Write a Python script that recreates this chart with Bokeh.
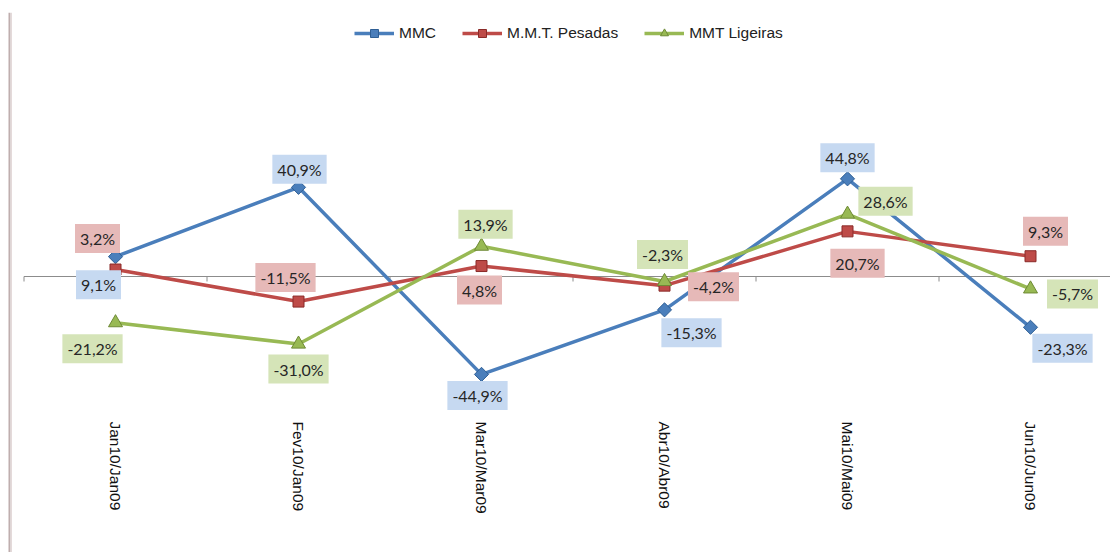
from math import pi
from bokeh.plotting import figure
from bokeh.models import Range1d, Span, Legend, LegendItem
from bokeh.core.properties import value
from bokeh.embed import file_html
from bokeh.resources import INLINE

# ---------------- data ----------------
categories = ["Jan10/Jan09", "Fev10/Jan09", "Mar10/Mar09",
              "Abr10/Abr09", "Mai10/Mai09", "Jun10/Jun09"]
series_names = ["MMC", "M.M.T. Pesadas", "MMT Ligeiras"]
mmc = [9.1, 40.9, -44.9, -15.3, 44.8, -23.3]
pesadas = [3.2, -11.5, 4.8, -4.2, 20.7, 9.3]
ligeiras = [-21.2, -31.0, 13.9, -2.3, 28.6, -5.7]

# ---------------- layout / style ----------------
# data-label offsets in screen pixels (dx, dy; dy positive = down)
mmc_off = [(-17, 28), (1, -18), (-4, 21), (27, 23), (0, -21), (32, 21)]
pes_off = [(-18, -31), (-13, -24), (-2, 24), (49, 1), (10, 32), (15, -25)]
lig_off = [(-23, 26), (0, 25), (4, -22), (-2, -27), (38, -13), (42, 5)]

W, H = 1110, 552
TOP = 12
PX_CAT = 183.0           # pixels per category
PX_UNIT = 2.18           # pixels per percentage point
FRAME_H = H - TOP
ZERO_PX = 276 - TOP      # zero line, from frame top
FIRST_CENTER_PX = 115

xs = -FIRST_CENTER_PX / PX_CAT
xe = xs + W / PX_CAT
ye = ZERO_PX / PX_UNIT
ys = -(FRAME_H - ZERO_PX) / PX_UNIT

blue, red, green = "#4a7ebb", "#be4b48", "#98b954"
blue_bg, red_bg, green_bg = "#c6d9f1", "#e6b9b8", "#d5e4b8"

p = figure(width=W, height=H, x_range=Range1d(xs, xe), y_range=Range1d(ys, ye),
           output_backend="svg", toolbar_location=None,
           x_axis_location=None, y_axis_location=None,
           min_border_left=0, min_border_right=0,
           min_border_top=TOP, min_border_bottom=0)
p.outline_line_color = None
p.background_fill_color = "white"
p.border_fill_color = "white"
p.xgrid.visible = False
p.ygrid.visible = False

# left chart-area border with a soft shadow
p.add_layout(Span(location=xs + 9 / PX_CAT, dimension="height",
                  line_color="#bfaeae", line_width=2))
p.add_layout(Span(location=xs + 11 / PX_CAT, dimension="height",
                  line_color="#e4dada", line_width=1))

n = len(categories)
xpos = list(range(n))

# horizontal category axis at zero with tick marks at boundaries
p.segment(x0=[-0.5], y0=[0], x1=[n - 0.5], y1=[0], line_color="#8c8c8c", line_width=1)
bounds = [i - 0.5 for i in range(n + 1)]
p.segment(x0=bounds, y0=[0] * len(bounds), x1=bounds,
          y1=[-5 / PX_UNIT] * len(bounds), line_color="#8c8c8c", line_width=1)

# category labels (rotated, reading top-to-bottom)
p.text(x=xpos, y=[-(421 - 276) / PX_UNIT] * n, text=categories, angle=-pi / 2,
       text_align="left", text_baseline="middle",
       text_font=value("Liberation Sans"), text_font_size="15.5px",
       text_color="#111111")

series = [
    (mmc, blue, blue_bg, "#2f5f95", dict(marker="square", angle=pi / 4, size=10), mmc_off),
    (pesadas, red, red_bg, "#8a2a28", dict(marker="square", size=11), pes_off),
    (ligeiras, green, green_bg, "#6e8a35", dict(marker="triangle", size=14), lig_off),
]

items = []
for (vals, col, bg, edge, mk, off), name in zip(series, series_names):
    ln = p.line(xpos, vals, line_color=col, line_width=3.5)
    sc = p.scatter(xpos, vals, fill_color=col, line_color=edge, line_width=1, **mk)
    items.append(LegendItem(label=name, renderers=[ln, sc]))

for (vals, col, bg, edge, mk, off) in series:
    labels = [f"{v:.1f}%".replace(".", ",") for v in vals]
    p.text(x=xpos, y=vals, text=labels,
           x_offset=[o[0] for o in off], y_offset=[o[1] for o in off],
           text_align="center", text_baseline="middle",
           text_font=value("Lato"), text_font_size="16px", text_color="#262626",
           background_fill_color=bg, padding=5)

legend = Legend(items=items, orientation="horizontal",
                location=(354, FRAME_H - 11 - 20),
                glyph_width=40, glyph_height=20, label_standoff=5, spacing=26,
                padding=0, margin=0, border_line_color=None,
                background_fill_alpha=0,
                label_text_font="Liberation Sans", label_text_font_size="15.5px",
                label_text_color="#222222")
p.add_layout(legend)

open("out.html", "w").write(file_html(p, INLINE))
